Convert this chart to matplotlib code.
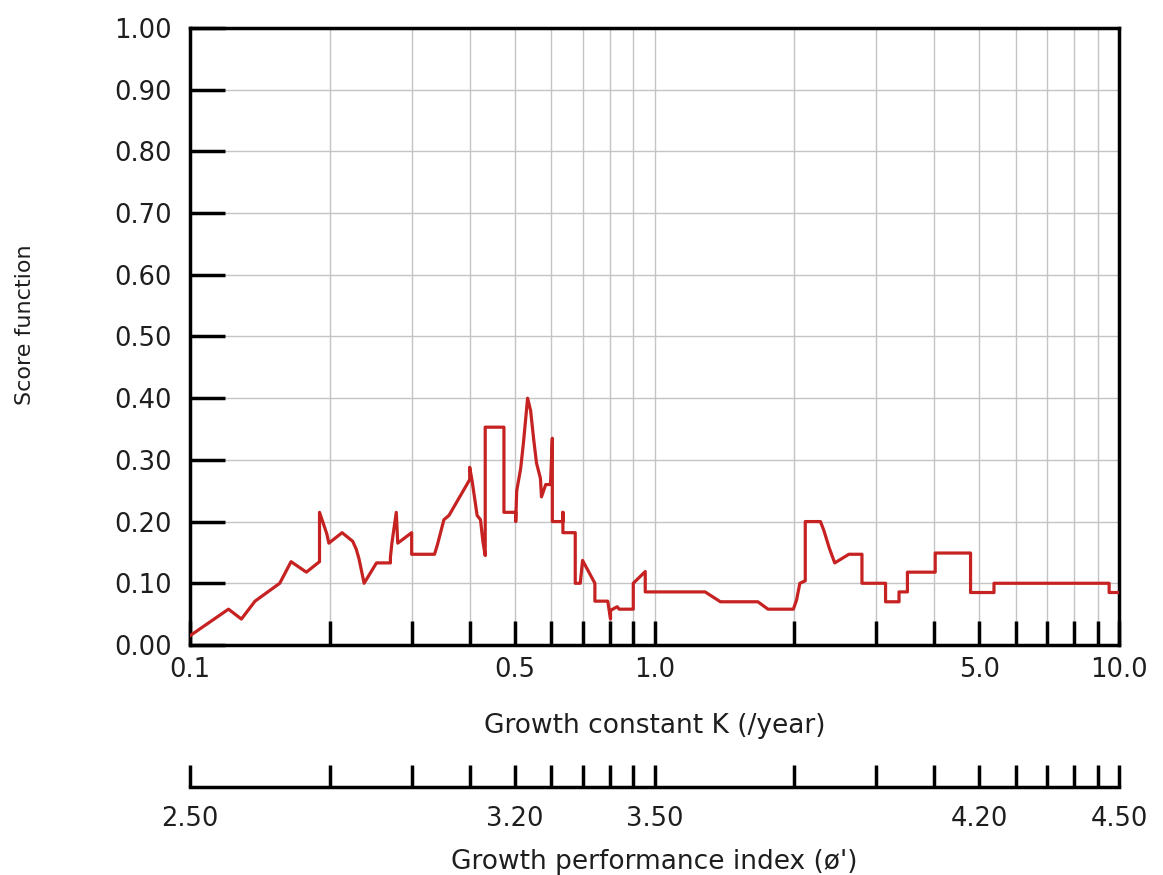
import numpy as np
import matplotlib.pyplot as plt
from matplotlib.ticker import FixedLocator, NullLocator

# score function trace over the growth constant K (log axis)
k_vals = [0.100, 0.121, 0.129, 0.138, 0.156, 0.165, 0.178, 0.190, 0.190, 0.193,
          0.195, 0.197, 0.199, 0.2125, 0.224, 0.228, 0.231, 0.234, 0.237, 0.252,
          0.270, 0.270, 0.272, 0.274, 0.278, 0.280, 0.300, 0.300, 0.336, 0.341,
          0.352, 0.361, 0.400, 0.400, 0.405, 0.415, 0.422, 0.427, 0.432, 0.432,
          0.474, 0.474, 0.5025, 0.5025, 0.505, 0.515, 0.5225, 0.533, 0.541, 0.549,
          0.557, 0.568, 0.571, 0.583, 0.597, 0.6025, 0.6025, 0.635, 0.635, 0.635,
          0.675, 0.675, 0.692, 0.700, 0.744, 0.744, 0.793, 0.804, 0.804, 0.831,
          0.839, 0.900, 0.900, 0.955, 0.955, 1.285, 1.386, 1.669, 1.755, 1.990,
          2.022, 2.055, 2.111, 2.111, 2.276, 2.314, 2.378, 2.443, 2.621, 2.796,
          2.796, 3.143, 3.143, 3.360, 3.360, 3.503, 3.503, 4.020, 4.020, 4.790,
          4.790, 5.380, 5.380, 9.520, 9.520, 10.0]
score = [0.015, 0.058, 0.042, 0.071, 0.100, 0.135, 0.118, 0.135, 0.215, 0.200,
         0.190, 0.180, 0.165, 0.182, 0.168, 0.155, 0.140, 0.120, 0.100, 0.133,
         0.133, 0.142, 0.165, 0.182, 0.215, 0.165, 0.182, 0.147, 0.147, 0.163,
         0.203, 0.210, 0.268, 0.288, 0.265, 0.210, 0.203, 0.168, 0.145, 0.353,
         0.353, 0.215, 0.215, 0.200, 0.250, 0.286, 0.330, 0.400, 0.380, 0.335,
         0.295, 0.270, 0.240, 0.260, 0.260, 0.335, 0.200, 0.200, 0.215, 0.182,
         0.182, 0.100, 0.100, 0.137, 0.100, 0.071, 0.071, 0.042, 0.056, 0.062,
         0.058, 0.058, 0.100, 0.119, 0.086, 0.086, 0.070, 0.070, 0.058, 0.058,
         0.073, 0.100, 0.104, 0.200, 0.200, 0.186, 0.157, 0.133, 0.147, 0.147,
         0.100, 0.100, 0.070, 0.070, 0.086, 0.086, 0.118, 0.118, 0.149, 0.149,
         0.085, 0.085, 0.100, 0.100, 0.085, 0.085]

k_ticks = [0.1, 0.2, 0.3, 0.4, 0.5, 0.6, 0.7, 0.8, 0.9,
           1.0, 2.0, 3.0, 4.0, 5.0, 6.0, 7.0, 8.0, 9.0, 10.0]
k_labelled = [0.1, 0.5, 1.0, 5.0, 10.0]
phi_at_k1 = 3.50          # phi' = log10(K) + 2 log10(Linf)
y_ticks = np.arange(0, 1.01, 0.1)

txt = '#1e1e1e'
fig = plt.figure(figsize=(11.63, 8.75), dpi=100)
ax = fig.add_axes([0.1634, 0.2629, 0.7988, 0.7051])

ax.plot(k_vals, score, color='#c62222', lw=2.3, zorder=3)

ax.set_xscale('log')
ax.set_xlim(0.1, 10)
ax.set_ylim(0, 1)
ax.xaxis.set_major_locator(FixedLocator(k_ticks))
ax.xaxis.set_minor_locator(NullLocator())
ax.set_xticklabels([('%.1f' % k if k in k_labelled else '') for k in k_ticks])
ax.set_yticks(y_ticks)
ax.set_yticklabels(['%.2f' % v for v in y_ticks])

ax.set_axisbelow(True)
ax.grid(True, color='#c4c4c4', lw=1.0)
for sp in ax.spines.values():
    sp.set_linewidth(2.5)
ax.tick_params(axis='y', direction='in', length=25, width=2.5,
               labelsize=18.5, pad=13, labelcolor=txt)
ax.tick_params(axis='x', direction='in', length=17, width=2.5,
               labelsize=18.5, pad=9, labelcolor=txt)

ax.set_xlabel('Growth constant K (/year)', fontsize=19, color=txt, labelpad=21)
ax.set_ylabel('Score function', fontsize=16, color=txt)
ax.yaxis.set_label_coords(-0.167, 0.519)

# second scale: growth performance index
def to_phi(k):
    return np.log10(np.clip(k, 1e-12, None)) + phi_at_k1

def to_k(p):
    return 10 ** (np.asarray(p) - phi_at_k1)

sec = ax.secondary_xaxis(-0.230, functions=(to_phi, to_k))
sec.set_xticks([to_phi(k) for k in k_ticks])
sec.set_xticklabels([('%.2f' % to_phi(k) if k in k_labelled else '') for k in k_ticks])
sec.xaxis.set_minor_locator(NullLocator())
sec.spines['bottom'].set_linewidth(2.5)
sec.tick_params(axis='x', direction='in', length=16, width=2.5,
                labelsize=18.5, pad=14, labelcolor=txt)
sec.set_xlabel("Growth performance index (\u00f8')", fontsize=19, color=txt, labelpad=12)

fig.savefig('out.png', dpi=100)
